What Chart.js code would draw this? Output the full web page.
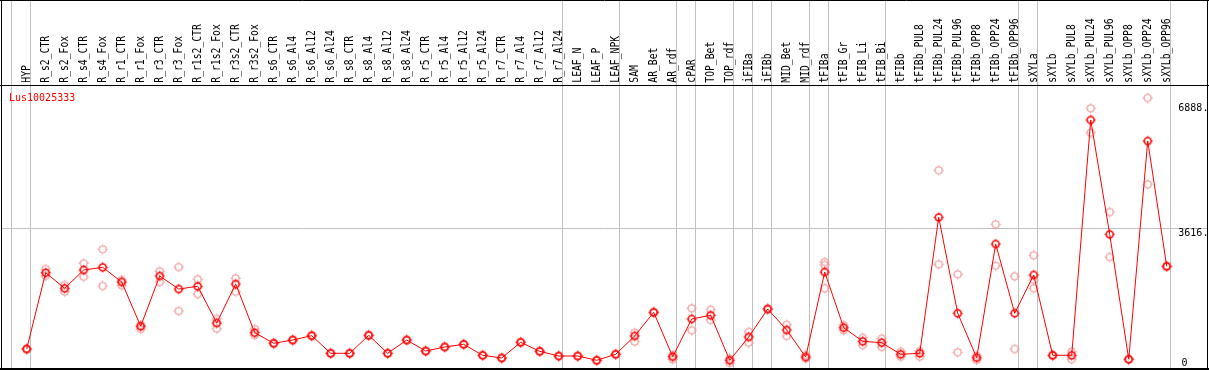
<!DOCTYPE html>
<html>
<head>
<meta charset="utf-8">
<script src="https://cdn.jsdelivr.net/npm/chart.js@4/dist/chart.umd.min.js"></script>
<style>
  body { margin: 0; background: #fff; overflow: hidden; }
  canvas { display: block; }
</style>
</head>
<body>
<canvas id="expr" width="1209" height="370" style="width:1209px;height:370px"></canvas>
<script>
const probe = "Lus10025333";

const categories = ["HYP","R_s2_CTR","R_s2_Fox","R_s4_CTR","R_s4_Fox","R_r1_CTR","R_r1_Fox","R_r3_CTR","R_r3_Fox",
  "R_r1s2_CTR","R_r1s2_Fox","R_r3s2_CTR","R_r3s2_Fox","R_s6_CTR","R_s6_Al4","R_s6_Al12","R_s6_Al24",
  "R_s8_CTR","R_s8_Al4","R_s8_Al12","R_s8_Al24","R_r5_CTR","R_r5_Al4","R_r5_Al12","R_r5_Al24",
  "R_r7_CTR","R_r7_Al4","R_r7_Al12","R_r7_Al24","LEAF_N","LEAF_P","LEAF_NPK","SAM","AR_Bet","AR_rdf",
  "cPAR","TOP_Bet","TOP_rdf","iFIBa","iFIBb","MID_Bet","MID_rdf","tFIBa","tFIB_Gr","tFIB_Li","tFIB_Bi",
  "tFIBb","tFIBb_PUL8","tFIBb_PUL24","tFIBb_PUL96","tFIBb_OPP8","tFIBb_OPP24","tFIBb_OPP96",
  "sXYLa","sXYLb","sXYLb_PUL8","sXYLb_PUL24","sXYLb_PUL96","sXYLb_OPP8","sXYLb_OPP24","sXYLb_OPP96"];

// mean expression per sample
const means = [456,2453,2045,2524,2594,2210,1050,2367,2026,2097,1136,2157,882,605,691,804,343,
  343,814,343,691,403,508,579,291,220,631,395,272,272,160,317,796,1416,254,
  1241,1338,160,770,1503,953,246,2471,1013,657,620,
  317,343,3903,1390,228,3204,1390,
  2393,291,291,6451,3458,186,5901,2621];

// replicates
const rep1 = [470,2550,2131,2699,3066,2262,1084,2490,2602,2280,1241,2306,979,620,705,825,355,
  355,830,350,700,415,520,590,300,230,645,405,282,282,170,330,882,1430,298,
  1521,1484,202,901,1520,1092,298,2733,1076,751,725,
  385,403,5134,2411,280,3720,2359,
  2909,300,385,6757,4042,195,7027,2635];
const rep2 = [445,2367,1956,2348,2105,2123,979,2210,1450,1895,987,1956,822,590,675,785,330,
  330,800,335,680,390,495,568,282,210,617,385,262,262,150,305,647,1402,186,
  945,1215,89,620,1486,796,212,2655,945,560,508,
  254,254,2673,369,168,2636,456,
  2262,282,186,6118,2864,177,4767,2607];
const rep3 = new Array(61).fill(null);
rep3[42] = 2045;
rep3[53] = 2045;

// last sample of each group (-1 = left edge)
const groupEnds = [-1,0,28,31,34,35,37,38,39,41,42,45,52,53,60];

const yTicks = [0,3616,6888];
const yTickLabels = ["0","3616.","6888."];
const yGrid = [3616];

function marker(color, lw){
  const c = document.createElement("canvas");
  c.width = 13; c.height = 13;
  const g = c.getContext("2d");
  g.strokeStyle = color;
  g.lineWidth = lw;
  g.beginPath();
  g.arc(6.5,6.5,3.5,0,2*Math.PI);
  g.stroke();
  g.lineWidth = 1;
  g.beginPath();
  g.moveTo(6.5,1.5); g.lineTo(6.5,3);
  g.moveTo(6.5,10); g.lineTo(6.5,11.5);
  g.moveTo(1.5,6.5); g.lineTo(3,6.5);
  g.moveTo(10,6.5); g.lineTo(11.5,6.5);
  g.stroke();
  return c;
}
const meanMark = marker("#ff0000", 1.6);
const repMark = marker("#f09898", 1.2);

const pts = arr => arr.map((v,i)=>({x:i,y:v})).filter(p=>p.y!==null);

const frame = {
  id: "frame",
  beforeDatasetsDraw(chart){
    const ctx = chart.ctx, xs = chart.scales.x, ys = chart.scales.y;
    ctx.save();
    ctx.strokeStyle = "#c0c0c0";
    ctx.lineWidth = 1;
    ctx.beginPath();
    groupEnds.forEach(i=>{
      const x = Math.floor(xs.getPixelForValue(i)+4)+0.5;
      ctx.moveTo(x,0); ctx.lineTo(x,368);
    });
    yGrid.forEach(v=>{
      const y = Math.floor(ys.getPixelForValue(v))+0.5;
      ctx.moveTo(2,y); ctx.lineTo(1207,y);
    });
    ctx.stroke();
    ctx.restore();
  },
  afterDraw(chart){
    const ctx = chart.ctx, xs = chart.scales.x, ys = chart.scales.y;
    ctx.save();
    ctx.strokeStyle = "#000";
    ctx.lineWidth = 1;
    ctx.beginPath();
    ctx.moveTo(0,0.5); ctx.lineTo(1209,0.5);
    ctx.moveTo(1.5,0); ctx.lineTo(1.5,370);
    ctx.moveTo(1207.5,0); ctx.lineTo(1207.5,370);
    ctx.moveTo(0,85.5); ctx.lineTo(1209,85.5);
    ctx.stroke();
    ctx.fillStyle = "#000";
    ctx.fillRect(0,368,1209,2);

    // sample names
    ctx.font = "12px 'DejaVu Sans Mono'";
    ctx.textAlign = "left";
    ctx.textBaseline = "alphabetic";
    categories.forEach((c,i)=>{
      const x = xs.getPixelForValue(i)+3.2;
      ctx.save();
      ctx.translate(x,82.7);
      ctx.rotate(-Math.PI/2);
      ctx.scale(0.81,1);
      ctx.fillText(c,0,0);
      ctx.restore();
    });

    // probe id
    ctx.font = "10px 'DejaVu Sans Mono'";
    ctx.fillStyle = "#ff0000";
    ctx.fillText(probe,9,100.7);

    // value labels
    ctx.fillStyle = "#000";
    yTicks.forEach((v,k)=>{
      const y = ys.getPixelForValue(v);
      if(v===0) ctx.fillText(yTickLabels[k],1181.5,y-0.4);
      else ctx.fillText(yTickLabels[k],1178.3,y+8);
    });
    ctx.restore();
  }
};

new Chart(document.getElementById("expr"),{
  type:"scatter",
  data:{datasets:[
    {data:pts(means), showLine:true, borderColor:"#ff0000", borderWidth:1, tension:0,
     pointStyle:meanMark, pointRadius:5, clip:false},
    {data:pts(rep1), pointStyle:repMark, pointRadius:5, clip:false},
    {data:pts(rep2), pointStyle:repMark, pointRadius:5, clip:false},
    {data:pts(rep3), pointStyle:repMark, pointRadius:5, clip:false}
  ]},
  options:{
    responsive:false,
    animation:false,
    events:[],
    layout:{autoPadding:false, padding:{left:2,right:2,top:86,bottom:3.6}},
    plugins:{legend:{display:false},tooltip:{enabled:false}},
    scales:{
      x:{type:"linear",min:-1.3,max:62.12,display:false},
      y:{min:0,max:7341,display:false}
    }
  },
  plugins:[frame]
});
</script>
</body>
</html>
